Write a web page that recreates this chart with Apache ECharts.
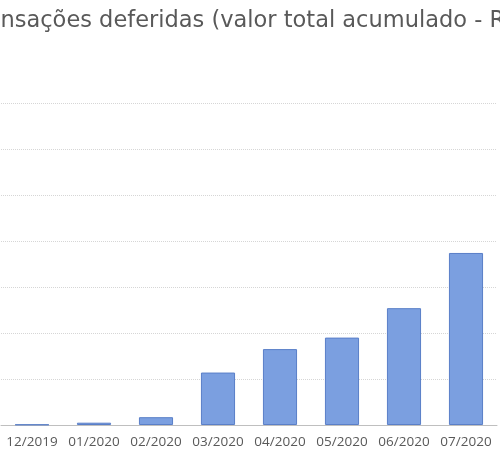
<!DOCTYPE html>
<html>
<head>
<meta charset="utf-8">
<script src="https://cdn.jsdelivr.net/npm/echarts@6/dist/echarts.min.js"></script>
<style>
  html, body { margin: 0; padding: 0; background: #fff; }
  #main { width: 500px; height: 458px; }
</style>
</head>
<body>
<div id="main"></div>
<script>
// meses
const categories = ["12/2019", "01/2020", "02/2020", "03/2020", "04/2020", "05/2020", "06/2020", "07/2020"];
// valor acumulado (unidades da grade)
const values = [0.01, 0.05, 0.17, 1.14, 1.65, 1.9, 2.54, 3.74];

const chart = echarts.init(document.getElementById("main"));

const options = {
  animation: false,
  title: {
    text: "Transações deferidas (valor total acumulado - R$)",
    left: -38,
    top: 5,
    textStyle: {
      fontFamily: "DejaVu Sans",
      fontSize: 22.5,
      fontWeight: "normal",
      color: "#595959",
    },
  },
  grid: {
    left: 1,
    right: 3,
    top: 103,
    bottom: 33,
  },
  xAxis: {
    type: "category",
    data: categories,
    axisTick: { show: false },
    axisLine: { lineStyle: { color: "#bfbfbf", width: 1 } },
    axisLabel: {
      interval: 0,
      fontFamily: "Open Sans",
      fontSize: 13.5,
      color: "#595959",
      margin: 10,
    },
  },
  yAxis: {
    type: "value",
    min: 0,
    max: 7,
    interval: 1,
    axisLabel: { show: false },
    axisLine: { show: false },
    axisTick: { show: false },
    splitLine: {
      lineStyle: { color: "#d6d6d6", type: "dotted", width: 1 },
    },
  },
  series: [
    {
      type: "bar",
      data: values,
      barWidth: "55%",
      itemStyle: {
        color: "#7b9fe0",
        borderColor: "#5a7fc8",
        borderWidth: 1,
      },
    },
  ],
};

chart.setOption(options);
</script>
</body>
</html>
